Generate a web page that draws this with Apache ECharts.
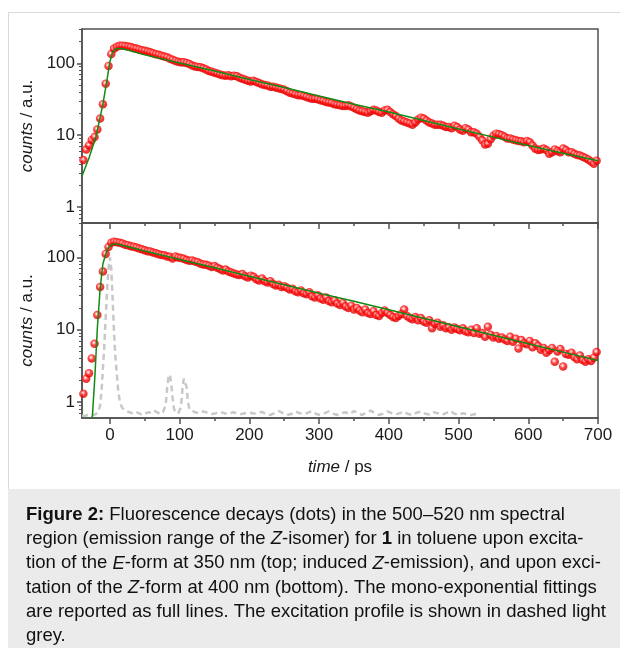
<!DOCTYPE html>
<html><head><meta charset="utf-8">
<script src="https://cdn.jsdelivr.net/npm/echarts@6/dist/echarts.min.js"></script>
<style>html,body{margin:0;padding:0;background:#fff}#c{width:620px;height:648px}</style>
</head><body><div id="c"></div>
<script>
// ---- top panel: induced Z-emission (350 nm excitation of E-form)
const topTime = [-38,-34,-30,-26,-22,-18,-14,-10,-6,-2,2,6,10,14,18,22,26,30,34,38,42,46,50,54,58,62,66,70,74,78,82,86,90,94,98,102,106,110,114,118,122,126,130,134,138,142,146,150,154,158,162,166,170,174,178,182,186,190,194,198,202,206,210,214,218,222,226,230,234,238,242,246,250,254,258,262,266,270,274,278,282,286,290,294,298,302,306,310,314,318,322,326,330,334,338,342,346,350,354,358,362,366,370,374,378,382,386,390,394,398,402,406,410,414,418,422,426,430,434,438,442,446,450,454,458,462,466,470,474,478,482,486,490,494,498,502,506,510,514,518,522,526,530,534,538,542,546,550,554,558,562,566,570,574,578,582,586,590,594,598,602,606,610,614,618,622,626,630,634,638,642,646,650,654,658,662,666,670,674,678,682,686,690,694,698];
const topCounts = [4.5,6.3,7.2,8.6,9.4,12,17,27,52,92,135,160,170,175,176,174,171,168,163,160,156,152,149,146,142,138,134,131,127,124,121,116,112,108,105,103,103,101,98,93,90,89,88,85,82,78,76,74,72,70,68,67,68,66,67,66,63,61,59,57,56,57,55,53,51,50,49,47,47,46,45,44,43,41,39,38,37,36,36,35,34,33,32,32,31.5,30.5,30,29,28.5,28,27,26.5,26,25.5,25.5,26,25,24,23,22,21.5,21,20.5,21.5,22.5,22,21,20.5,22,22.5,21,19.5,18.5,17,16,15.5,15,14.5,14,15,16.5,17.5,17,16,15,14.5,14,14,14,13.5,13,13,12.5,13.5,13,12,11.5,12.5,12,11,11,10.5,9.5,8.5,7.4,7.6,8.8,9.8,10.5,10.3,10,9.5,9,9,8.7,8.5,8.3,8.2,8,8.3,8,7.2,6.5,6.2,6.3,6.5,6.2,5.5,5.8,6.3,6,5.8,6.5,6.2,5.8,5.8,5.5,5.3,5.2,5,4.8,4.6,4.3,4.0,4.4,4.7];
const topFitTime = [-40,-30,-20,-10,-4,0,4,8,12,16,20,50,100,150,200,250,300,350,400,450,500,550,600,650,700];
const topFitCounts = [2.7,4.8,9.5,27,60,105,145,158,161,160,158,131,101,78,59.5,46,35,27,21,16,12.2,9.4,7.2,5.6,4.4];

// ---- bottom panel: Z-form excited at 400 nm
const botTime = topTime;
const botCounts = [1.3,2.1,2.5,4.0,6.4,16,39,64,112,140,160,165,163,160,156,150,148,143,141,137,133,130,126,122,121,117,114,111,108,107,103,102,97,103,100,98,96,92,90,91,88,86,82,80,79,77,74,76,72,69,66,68,64,62,60,58,57,59,55,53,56,54,50,48,51,47,45,47,43,41,42,39,40,38,36,37,34,33,35,32,31,33,29,28,30,27,26,28,25,24,25.5,23,22,23.5,21,20,21.5,19,20,18.5,17.5,19,17,16.5,18,16,15.5,17,18.5,17,16,15,14.5,15.5,16.5,19,15.5,14.5,14,15,13.5,14.5,13,12.5,13.5,10.5,12,12.5,11,11.5,10.5,10.8,10,10.7,10.2,9.8,10.5,9.5,9.2,10,9,10.5,8.8,9,8,11,8.5,7.8,8.2,7.5,7.8,7.3,7,8,6.8,7.5,5.5,7.2,6.5,6.3,7,5.7,6.5,6,5.3,5.6,4.8,5.2,5.6,3.6,5,5.4,3.1,4.6,4.5,4.8,4.2,3.9,4.4,3.8,3.6,3.9,3.7,4.1,4.9];
const botFitTime = [-27.5,-25,-21.5,-18,-14,-10,-5,-2,2,5,8,12,50,100,150,200,250,300,350,400,450,500,550,600,650,700];
const botFitCounts = [0.5,0.65,2.3,10.5,37,82,118,137,150,153,154,152,123,94,72,55,42,32,24.7,18.9,14.4,11,8.4,6.4,4.9,3.75];
const irfTime = [-40,-36,-32,-28,-24,-20,-16,-14,-12,-10,-8,-6,-4,-2,0,2,4,6,8,10,12,14,16,18,20,24,28,32,36,40,44,48,52,56,60,64,68,72,76,80,82,84,86,88,90,92,94,98,102,104,106,108,110,112,114,116,122,128,134,140,146,152,158,164,170,176,182,188,194,200,206,212,218,224,230,236,242,248,254,260,266,272,278,284,290,296,302,308,314,320,326,332,338,344,350,356,362,368,374,380,386,392,398,404,410,416,422,428,434,440,446,452,458,464,470,476,482,488,494,500,506,512,518,524,530];
const irfCounts = [0.65,0.64,0.66,0.65,0.66,0.68,0.75,0.9,1.4,2.9,6,15,35,70,100,70,25,9,4,2.4,1.4,1.05,0.9,0.82,0.78,0.75,0.72,0.7,0.74,0.71,0.68,0.66,0.7,0.72,0.7,0.75,0.72,0.68,0.72,0.9,1.5,2.2,2.4,1.8,1.1,0.8,0.72,0.7,0.85,1.5,2.1,2.2,1.6,1.0,0.8,0.78,0.72,0.7,0.74,0.71,0.68,0.7,0.73,0.7,0.68,0.72,0.7,0.68,0.7,0.72,0.69,0.7,0.73,0.68,0.66,0.7,0.75,0.7,0.66,0.68,0.74,0.7,0.68,0.71,0.75,0.68,0.66,0.7,0.74,0.69,0.66,0.7,0.72,0.68,0.75,0.7,0.66,0.72,0.76,0.7,0.66,0.69,0.74,0.7,0.67,0.7,0.73,0.68,0.66,0.71,0.74,0.69,0.67,0.72,0.7,0.66,0.7,0.75,0.69,0.66,0.7,0.68,0.66,0.68,0.67];

// ---- ticks
const xMajor = [0,100,200,300,400,500,600,700];
const xMinor = [50,150,250,350,450,550,650];
const yMajor = [1,10,100];
const yMinor = [0.7,0.8,0.9,2,3,4,5,6,7,8,9,20,30,40,50,60,70,80,90,200,300];

const FONT = 'Liberation Sans, Arial, Helvetica, sans-serif';
const AX = '#505050';
const TXT = '#1a1a1a';
const FS = 17;
const pair = (xs, ys) => xs.map((x, i) => [x, ys[i]]);

const ballColor = {
  type: 'radial', x: 0.42, y: 0.38, r: 0.62,
  colorStops: [{offset: 0, color: '#ffffff'}, {offset: 0.22, color: '#ff9a9a'}, {offset: 0.5, color: '#ff1010'}, {offset: 1, color: '#d80000'}]
};

const grids = [
  {left: 82, right: 22, top: 29, height: 194},
  {left: 82, right: 22, top: 223, height: 195}
];

function xAxes(gi, withLabels) {
  return [
    {gridIndex: gi, type: 'value', min: -40, max: 700, position: 'bottom',
     axisLine: {show: true, onZero: false, lineStyle: {color: AX, width: 1.5}},
     splitLine: {show: false},
     axisTick: {show: true, inside: false, length: 6, customValues: xMajor, lineStyle: {color: AX, width: 1.5}},
     axisLabel: {show: withLabels, customValues: xMajor, margin: 9, fontSize: FS, color: TXT, fontFamily: FONT},
     name: withLabels ? '{i|time} / ps' : '', nameLocation: 'middle', nameGap: 41,
     nameTextStyle: {fontSize: FS, color: TXT, fontFamily: FONT, rich: {i: {fontStyle: 'italic', fontSize: FS, color: TXT, fontFamily: FONT}}}},
    {gridIndex: gi, type: 'value', min: -40, max: 700, position: 'bottom',
     axisLine: {show: false, onZero: false}, splitLine: {show: false},
     axisTick: {show: true, inside: false, length: 3, customValues: xMinor, lineStyle: {color: AX, width: 1.5}},
     axisLabel: {show: false}}
  ];
}
function yAxes(gi) {
  return [
    {gridIndex: gi, type: 'log', logBase: 10, min: 0.6, max: 300, position: 'left',
     axisLine: {show: true, onZero: false, lineStyle: {color: AX, width: 1.5}},
     splitLine: {show: false},
     axisTick: {show: true, inside: false, length: 5, customValues: yMajor, lineStyle: {color: AX, width: 1.5}},
     axisLabel: {show: true, customValues: yMajor, margin: 7, fontSize: FS, color: TXT, fontFamily: FONT},
     name: '{i|counts} / a.u.', nameLocation: 'middle', nameGap: 31,
     nameTextStyle: {fontSize: FS, color: TXT, fontFamily: FONT, rich: {i: {fontStyle: 'italic', fontSize: FS, color: TXT, fontFamily: FONT}}}},
    {gridIndex: gi, type: 'log', logBase: 10, min: 0.6, max: 300, position: 'left',
     axisLine: {show: false, onZero: false}, splitLine: {show: false},
     axisTick: {show: true, inside: false, length: 3, customValues: yMinor, lineStyle: {color: AX, width: 1}},
     axisLabel: {show: false}}
  ];
}

const captionLines = [
  '{b|Figure 2:} Fluorescence decays (dots) in the 500–520 nm spectral',
  'region (emission range of the {i|Z}-isomer) for {b|1} in toluene upon excita-',
  'tion of the {i|E}-form at 350 nm (top; induced {i|Z}-emission), and upon exci-',
  'tation of the {i|Z}-form at 400 nm (bottom). The mono-exponential fittings',
  'are reported as full lines. The excitation profile is shown in dashed light',
  'grey.'
];
const CFS = 18.5;
const capRich = {
  b: {fontWeight: 'bold', fontSize: CFS, fontFamily: FONT, fill: '#111'},
  i: {fontStyle: 'italic', fontSize: CFS, fontFamily: FONT, fill: '#111'}
};

const graphic = [
  {type: 'rect', z: -10, shape: {x: 8, y: 489, width: 612, height: 159}, style: {fill: '#ebebeb'}},
  {type: 'line', z: -10, shape: {x1: 8.5, y1: 12, x2: 8.5, y2: 489}, style: {stroke: '#dadada', lineWidth: 1}},
  {type: 'line', z: -10, shape: {x1: 8, y1: 12.5, x2: 620, y2: 12.5}, style: {stroke: '#dadada', lineWidth: 1}}
].concat(captionLines.map((t, i) => ({
  type: 'text', z: 10, x: 26, y: 515 + i * 24.2,
  style: {text: t, rich: capRich, fontSize: CFS, fontFamily: FONT, fill: '#111', verticalAlign: 'middle', align: 'left'}
})));

const chart = echarts.init(document.getElementById('c'), null, {renderer: 'canvas'});
chart.setOption({
  backgroundColor: '#fff',
  animation: false,
  grid: grids.map(g => Object.assign({show: true, borderColor: AX, borderWidth: 1.5, backgroundColor: 'transparent'}, g)),
  xAxis: xAxes(0, false).concat(xAxes(1, true)),
  yAxis: yAxes(0).concat(yAxes(1)),
  graphic: graphic,
  series: [
    {type: 'scatter', xAxisIndex: 0, yAxisIndex: 0, z: 2, symbol: 'circle', symbolSize: 8.5,
     itemStyle: {color: ballColor}, data: pair(topTime, topCounts)},
    {type: 'line', xAxisIndex: 0, yAxisIndex: 0, z: 3, showSymbol: false, symbol: 'none',
     lineStyle: {color: '#138a13', width: 1.5}, data: pair(topFitTime, topFitCounts)},
    {type: 'line', xAxisIndex: 2, yAxisIndex: 2, z: 1, showSymbol: false, symbol: 'none',
     lineStyle: {color: '#c8c8c8', width: 2.5, type: [6, 4]}, data: pair(irfTime, irfCounts)},
    {type: 'scatter', xAxisIndex: 2, yAxisIndex: 2, z: 2, symbol: 'circle', symbolSize: 8.5,
     itemStyle: {color: ballColor}, data: pair(botTime, botCounts)},
    {type: 'line', xAxisIndex: 2, yAxisIndex: 2, z: 3, showSymbol: false, symbol: 'none', clip: true,
     lineStyle: {color: '#138a13', width: 1.5}, data: pair(botFitTime, botFitCounts)}
  ]
});
</script></body></html>
